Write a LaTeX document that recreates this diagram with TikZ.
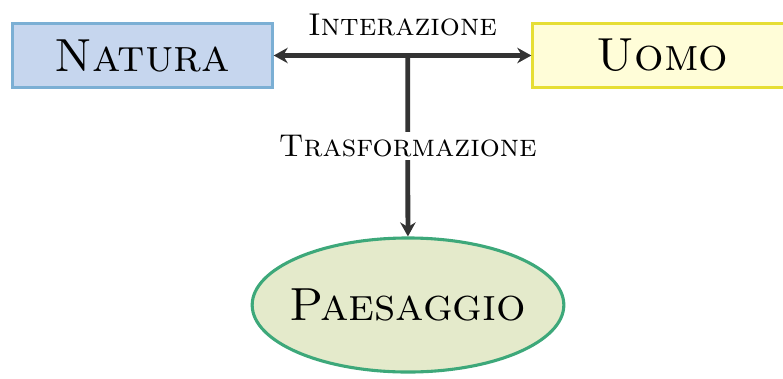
\documentclass[tikz,border=0pt]{standalone}
\usetikzlibrary{arrows.meta,shapes.geometric}

\definecolor{bluchiaro}{HTML}{C6D6EE}
\definecolor{blubordo}{HTML}{7BAFD4}
\definecolor{giallochiaro}{HTML}{FFFDD8}
\definecolor{giallobordo}{HTML}{E6DE35}
\definecolor{verdechiaro}{HTML}{E4EACB}
\definecolor{verdebordo}{HTML}{3DA87A}
\definecolor{freccia}{HTML}{333333}

\begin{document}
\begin{tikzpicture}[x=0.0125cm, y=-0.0125cm]
				% Stili dei nodi e delle frecce
				\tikzset{scatola/.style={rectangle, draw, line width=1.1pt, minimum width=3.24cm, minimum height=0.81cm, inner sep=0pt, font=\fontsize{16.5}{20}\selectfont\scshape},
					ovale/.style={ellipse, draw=verdebordo, fill=verdechiaro, line width=1.1pt, minimum width=3.86cm, minimum height=1.675cm, inner xsep=-0.1cm, inner ysep=0pt, font=\fontsize{16.5}{20}\selectfont\scshape},
					etichetta/.style={font=\fontsize{11.2}{13}\selectfont\scshape, inner sep=1pt},
					freccia/.style={draw=freccia, line width=1.7pt, -{Stealth[length=5pt, width=5.5pt]}}}
				
				% Area del disegno
				\useasboundingbox (0,0) rectangle (783,378);
				
				% Nodi
				\node[scatola, draw=blubordo, fill=bluchiaro] (natura) at (142.5,55.5) {Natura};
				\node[scatola, draw=giallobordo, fill=giallochiaro] (uomo) at (662.5,55.5) {Uomo};
				\node[ovale] (paesaggio) at (408,305) {Paesaggio};
				
				% Interazione tra natura e uomo
				\draw[freccia, {Stealth[length=5pt, width=5.5pt]}-{Stealth[length=5pt, width=5.5pt]}] (natura) -- (uomo)
					node[midway, above=5pt, etichetta] {Interazione}
					coordinate[pos=0.52] (incrocio);
				
				% Trasformazione verso il paesaggio
				\draw[freccia] (incrocio) -- (paesaggio)
					node[midway, fill=white, etichetta] {Trasformazione};
			\end{tikzpicture}
\end{document}
